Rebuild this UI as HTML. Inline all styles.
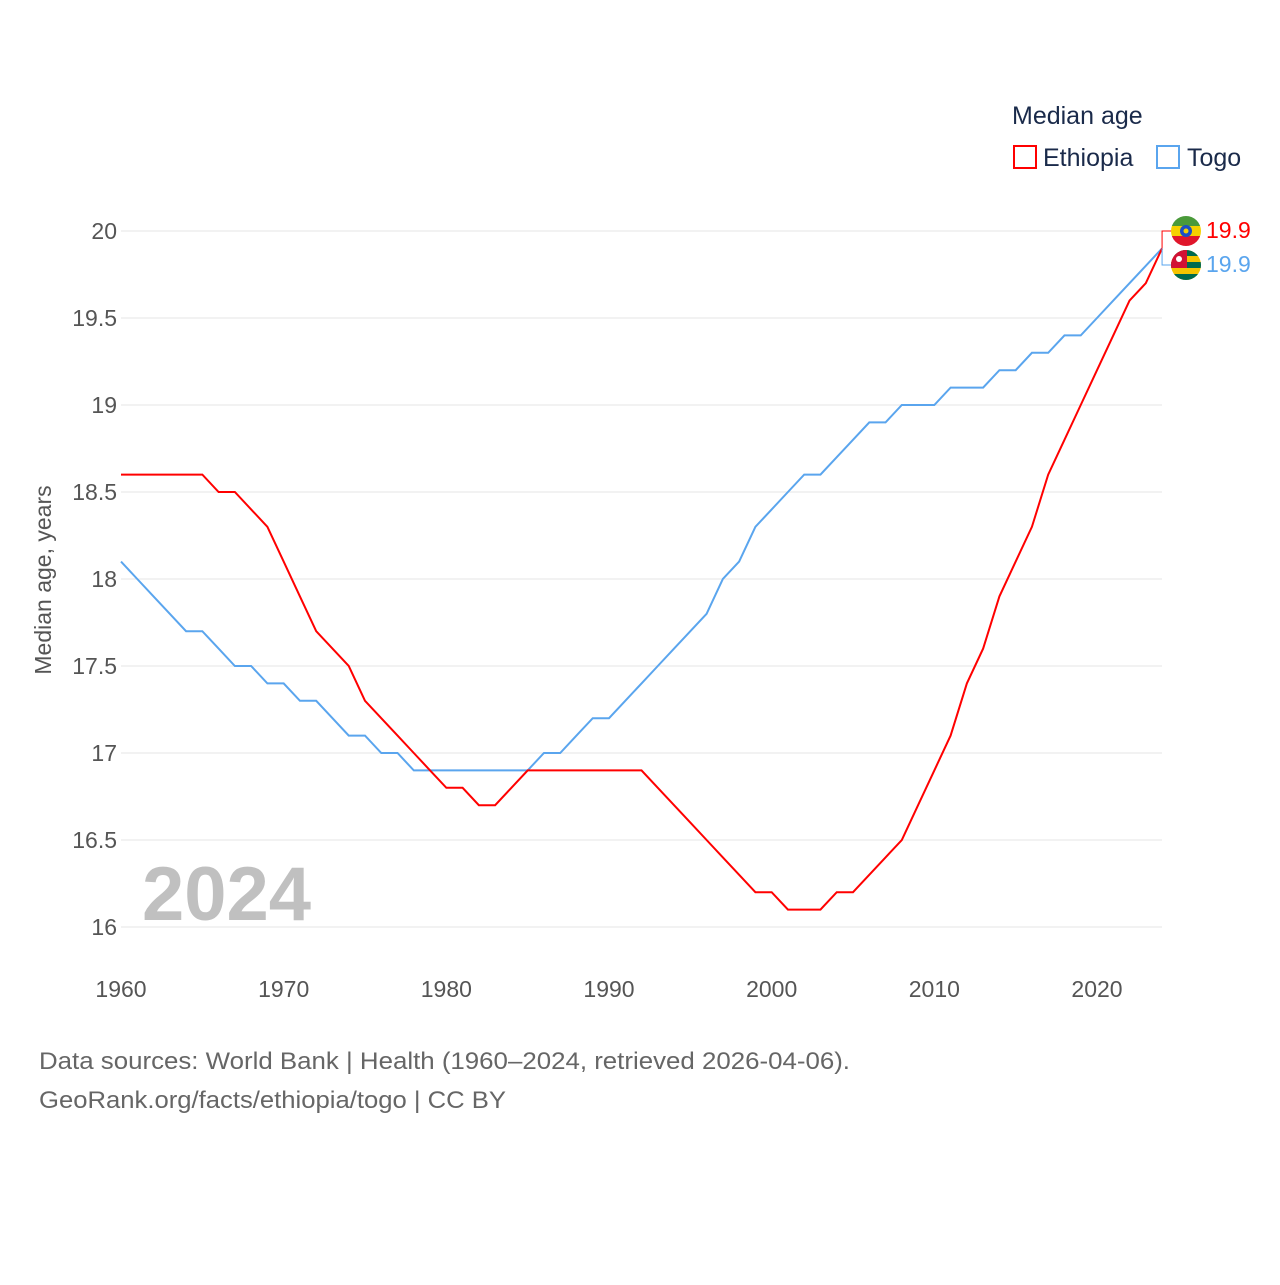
<!DOCTYPE html>
<html><head><meta charset="utf-8"><style>
body{margin:0;background:#fff;font-family:"Liberation Sans",sans-serif}
svg text{font-family:"Liberation Sans",sans-serif}
</style></head><body>
<svg id="c" width="1280" height="1280">
<text x="1012" y="124" font-size="25" fill="#1a2a4a">Median age</text>
<rect x="1014" y="146" width="22" height="22" fill="none" stroke="#ff0000" stroke-width="2"/>
<text x="1043" y="166" font-size="25" fill="#1a2a4a">Ethiopia</text>
<rect x="1157" y="146" width="22" height="22" fill="none" stroke="#5aa5ee" stroke-width="2"/>
<text x="1187" y="166" font-size="25" fill="#1a2a4a">Togo</text>
<text transform="translate(51,580) rotate(-90)" text-anchor="middle" font-size="23" fill="#555">Median age, years</text>
<text x="142" y="920" font-size="76" font-weight="bold" fill="#c0c0c0">2024</text>
<text x="39" y="1069" font-size="24" fill="#666" textLength="811" lengthAdjust="spacingAndGlyphs">Data sources: World Bank | Health (1960–2024, retrieved 2026-04-06).</text>
<text x="39" y="1108" font-size="24" fill="#666" textLength="467" lengthAdjust="spacingAndGlyphs">GeoRank.org/facts/ethiopia/togo | CC BY</text>
<g id="g"></g>
</svg>
<script>
const years=[];for(let y=1960;y<=2024;y++)years.push(y);
const ethiopia=[18.6,18.6,18.6,18.6,18.6,18.6,18.5,18.5,18.4,18.3,18.1,17.9,17.7,17.6,17.5,17.3,17.2,17.1,17.0,16.9,16.8,16.8,16.7,16.7,16.8,16.9,16.9,16.9,16.9,16.9,16.9,16.9,16.9,16.8,16.7,16.6,16.5,16.4,16.3,16.2,16.2,16.1,16.1,16.1,16.2,16.2,16.3,16.4,16.5,16.7,16.9,17.1,17.4,17.6,17.9,18.1,18.3,18.6,18.8,19.0,19.2,19.4,19.6,19.7,19.9];
const togo=[18.1,18.0,17.9,17.8,17.7,17.7,17.6,17.5,17.5,17.4,17.4,17.3,17.3,17.2,17.1,17.1,17.0,17.0,16.9,16.9,16.9,16.9,16.9,16.9,16.9,16.9,17.0,17.0,17.1,17.2,17.2,17.3,17.4,17.5,17.6,17.7,17.8,18.0,18.1,18.3,18.4,18.5,18.6,18.6,18.7,18.8,18.9,18.9,19.0,19.0,19.0,19.1,19.1,19.1,19.2,19.2,19.3,19.3,19.4,19.4,19.5,19.6,19.7,19.8,19.9];
const yTicks=[16,16.5,17,17.5,18,18.5,19,19.5,20];
const xTicks=[1960,1970,1980,1990,2000,2010,2020];
const X=y=>121+(y-1960)*(1097-121)/60;
const Y=v=>927-(v-16)*174;
const NS='http://www.w3.org/2000/svg',g=document.getElementById('g');
function mk(t,a,txt){const e=document.createElementNS(NS,t);for(const k in a)e.setAttribute(k,a[k]);if(txt!=null)e.textContent=txt;g.appendChild(e);return e;}
yTicks.forEach(v=>{
 const l=mk('line',{x1:121,x2:1162,y1:Y(v),y2:Y(v),stroke:'#e6e6e6','stroke-width':1});
 
 
 const t=mk('text',{x:117,y:Y(v)+8,'text-anchor':'end','font-size':23,fill:'#555'},String(v));
 
 
});
xTicks.forEach(v=>{
 const t=mk('text',{x:X(v),y:997,'text-anchor':'middle','font-size':23,fill:'#555'},String(v));
 
 
});
function line(d,c,n){
 const p=mk('polyline',{points:d.map((v,i)=>X(years[i])+','+Y(v)).join(' '),fill:'none',stroke:c,'stroke-width':2});
 
 
}
line(togo,'#5aa5ee','line-togo');
line(ethiopia,'#ff0000','line-ethiopia');
const lx=X(2024),ey=Y(ethiopia[ethiopia.length-1]),ty=Y(togo[togo.length-1]);
const c1=mk('path',{d:`M${lx} ${ey} V231 H1172`,fill:'none',stroke:'#ff0000','stroke-width':1});


const c2=mk('path',{d:`M${lx} ${ty} V265 H1172`,fill:'none',stroke:'#5aa5ee','stroke-width':1});


const f1=mk('g',{});


f1.innerHTML='<clipPath id="cp1"><circle cx="1186" cy="231" r="15"/></clipPath><g clip-path="url(#cp1)"><rect x="1171" y="216" width="30" height="10" fill="#4a9a3a"/><rect x="1171" y="226" width="30" height="10" fill="#f5d100"/><rect x="1171" y="236" width="30" height="10" fill="#e0162b"/><circle cx="1186" cy="231" r="6" fill="#1c4fc4"/><circle cx="1186" cy="231" r="2.5" fill="#f5d100"/></g>';
const f2=mk('g',{});


f2.innerHTML='<clipPath id="cp2"><circle cx="1186" cy="265" r="15"/></clipPath><g clip-path="url(#cp2)"><rect x="1171" y="250" width="30" height="30" fill="#f5c400"/><rect x="1171" y="250" width="30" height="6" fill="#006a4e"/><rect x="1171" y="262" width="30" height="6" fill="#006a4e"/><rect x="1171" y="274" width="30" height="6" fill="#006a4e"/><rect x="1171" y="250" width="16" height="18" fill="#d21034"/><circle cx="1179" cy="259" r="3" fill="#fff"/></g>';
const t1=mk('text',{x:1206,y:238,'font-size':23,fill:'#ff0000'},ethiopia[ethiopia.length-1].toFixed(1));


const t2=mk('text',{x:1206,y:272,'font-size':23,fill:'#5aa5ee'},togo[togo.length-1].toFixed(1));


</script>
</body></html>
